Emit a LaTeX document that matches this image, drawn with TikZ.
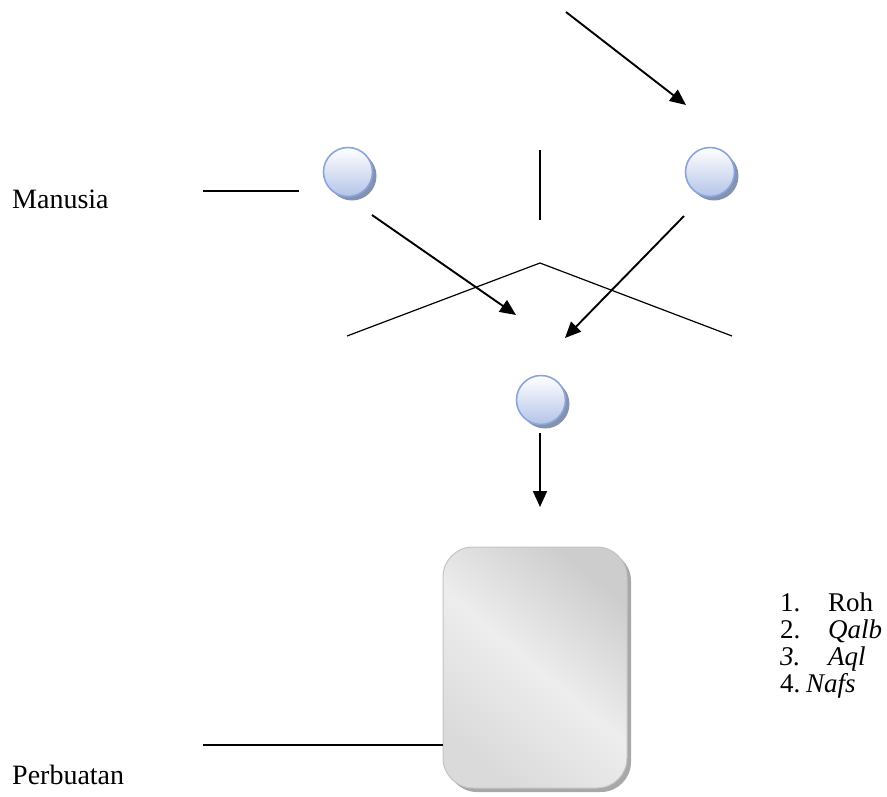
\documentclass[tikz,border=0pt]{standalone}
\usepackage{fontspec}
\setmainfont{Liberation Serif}
\usetikzlibrary{arrows.meta}
\definecolor{ballrim}{HTML}{8BA5DB}
\definecolor{balltop}{HTML}{FFFFFF}
\definecolor{ballbot}{HTML}{B4C4E8}
\definecolor{ballshadow}{HTML}{8592AE}
\definecolor{boxrim}{HTML}{C4C4C4}
\definecolor{boxshadow}{HTML}{A8A8A8}
\definecolor{boxdark}{HTML}{CDCDCD}
\definecolor{boxlight}{HTML}{EDEDED}
\tikzset{
  ball/.style={circle,minimum size=49pt,inner sep=0pt,draw=ballrim,line width=1.6pt,
    top color=balltop,bottom color=ballbot},
  arr/.style={line width=1.9pt,-{Triangle[length=16pt,width=14pt]}},
  thin line/.style={line width=1.2pt},
  lbl/.style={font=\fontsize{28}{33}\selectfont,inner sep=0pt,anchor=base west},
  item/.style={font=\fontsize{27}{32}\selectfont,inner sep=0pt,anchor=base west},
}
\begin{document}
\begin{tikzpicture}[x=1pt,y=-1pt]
\useasboundingbox (0,0) rectangle (887,796);
% balls with shadows
\fill[ballshadow] (352,176) circle (24.5);
\node[ball] (b1) at (348,172) {};
\fill[ballshadow] (714,176) circle (24.5);
\node[ball] (b2) at (710,172) {};
\fill[ballshadow] (545,404) circle (24.5);
\node[ball] (b3) at (541,400) {};
% box
\fill[boxshadow,rounded corners=30] (447,551) rectangle (631,792);
\path[draw=boxrim,line width=1pt,rounded corners=30,
  top color=boxdark,bottom color=boxdark!60!boxlight,middle color=boxlight,shading angle=-40]
  (443,547) rectangle (627,788);
\node[inner sep=0pt,minimum width=184pt,minimum height=241pt] (box) at (535,667.5) {};
% coordinates
\coordinate (a1s) at (566,12);   \coordinate (a1e) at (686,105);
\coordinate (a2s) at (372,215);  \coordinate (a2e) at (516,315);
\coordinate (a3s) at (684,216);  \coordinate (a3e) at (565,338);
\coordinate (a4s) at (540,433);  \coordinate (a4e) at (540,507);
\coordinate (vt) at (540,150);   \coordinate (vb) at (540,220);
\coordinate (pl) at (347,336);   \coordinate (pa) at (540,263);  \coordinate (pr) at (732,336);
\coordinate (ml) at (203,191);   \coordinate (mr) at (299,191);
\coordinate (pbl) at (203,745);
% connectors
\draw[arr] (a1s) -- (a1e);
\draw[arr] (a2s) -- (a2e);
\draw[arr] (a3s) -- (a3e);
\draw[arr] (a4s) -- (a4e);
\draw[thin line] (vt) -- (vb);
\draw[thin line] (pl) -- (pa) -- (pr);
\draw[thin line] (ml) -- (mr);
\draw[thin line] (pbl) -- (box.west |- pbl);
% labels
\node[lbl] (manusia) at (12,208) {Manusia};
\node[lbl] (perbuatan) at (12,784) {Perbuatan};
\node[item] (n1) at (780,611) {1.};
\node[item] (t1) at (828,611) {Roh};
\node[item] (n2) at (780,638) {2.};
\node[item] (t2) at (828,638) {\itshape Qalb};
\node[item] (n3) at (780,665) {\itshape 3.};
\node[item] (t3) at (828,665) {\itshape Aql};
\node[item] (n4) at (780,692) {4.};
\node[item] (t4) at (806,692) {\itshape Nafs};
\end{tikzpicture}
\end{document}
